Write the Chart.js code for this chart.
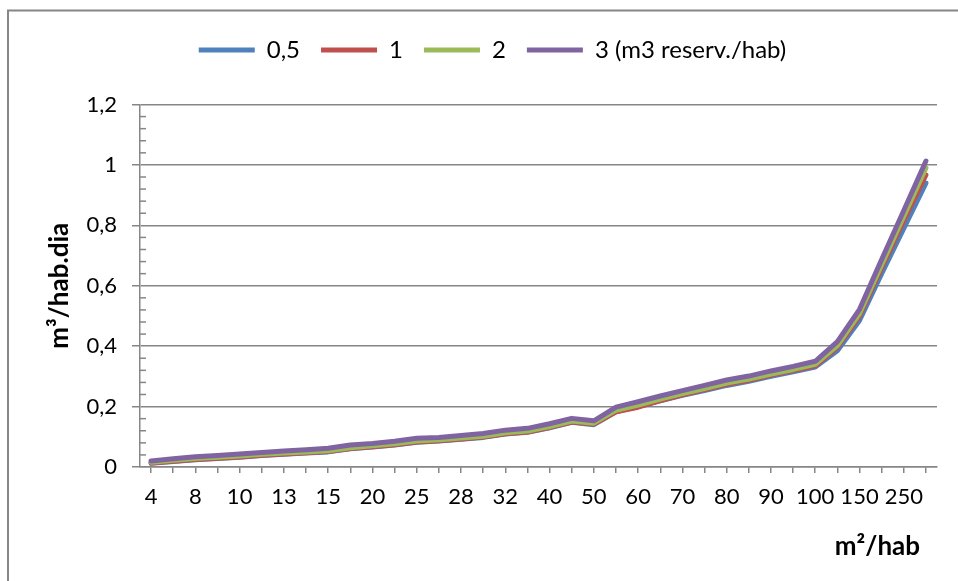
<!DOCTYPE html>
<html>
<head>
<meta charset="utf-8">
<script src="https://cdn.jsdelivr.net/npm/chart.js@4.4.1/dist/chart.umd.min.js"></script>
<style>
  html, body { margin: 0; padding: 0; background: #fff; }
  #chart { display: block; }
</style>
</head>
<body>
<canvas id="chart" width="958" height="581"></canvas>
<script>
/***************************************
 * Data
 ***************************************/
// m2/hab categories - only every other one carries a label on the axis
const areaLabels = ['4', '', '8', '', '10', '', '13', '', '15', '', '20', '', '25', '', '28', '', '32', '',
  '40', '', '50', '', '60', '', '70', '', '80', '', '90', '', '100', '', '150', '', '250', ''];

const seriesNames = ['0,5', '1', '2', '3 (m3 reserv./hab)'];

// m3/hab.dia for each reservoir size
const reserve05 = [0.012, 0.018, 0.024, 0.028, 0.032, 0.038, 0.042, 0.046, 0.050, 0.060, 0.066, 0.073,
  0.082, 0.086, 0.092, 0.098, 0.109, 0.115, 0.130, 0.148, 0.140, 0.183, 0.200, 0.219, 0.237, 0.253,
  0.270, 0.284, 0.300, 0.315, 0.331, 0.385, 0.485, 0.640, 0.790, 0.940];
const reserve1 = [0.013, 0.019, 0.025, 0.029, 0.033, 0.039, 0.043, 0.047, 0.051, 0.061, 0.067, 0.074,
  0.083, 0.087, 0.093, 0.099, 0.110, 0.116, 0.131, 0.149, 0.142, 0.183, 0.198, 0.220, 0.239, 0.256,
  0.274, 0.287, 0.304, 0.319, 0.335, 0.396, 0.500, 0.660, 0.815, 0.967];
const reserve2 = [0.016, 0.022, 0.028, 0.032, 0.036, 0.042, 0.046, 0.050, 0.054, 0.064, 0.070, 0.077,
  0.086, 0.090, 0.096, 0.102, 0.113, 0.119, 0.134, 0.152, 0.145, 0.188, 0.205, 0.225, 0.243, 0.260,
  0.278, 0.291, 0.308, 0.323, 0.340, 0.402, 0.508, 0.670, 0.830, 0.990];
const reserve3 = [0.020, 0.027, 0.034, 0.038, 0.043, 0.048, 0.053, 0.057, 0.062, 0.073, 0.078, 0.085,
  0.095, 0.098, 0.104, 0.111, 0.122, 0.128, 0.143, 0.161, 0.153, 0.198, 0.216, 0.235, 0.253, 0.270,
  0.288, 0.301, 0.318, 0.333, 0.350, 0.415, 0.522, 0.687, 0.849, 1.013];

const lineColors = ['#4F81BD', '#C0504D', '#9BBB59', '#8064A2'];
const axisGray = '#868686';

/***************************************
 * Small plugins
 ***************************************/
// white page + the frame line on the left/top
const pageFrame = {
  id: 'pageFrame',
  beforeDraw(chart) {
    const ctx = chart.ctx;
    ctx.save();
    ctx.fillStyle = '#fff';
    ctx.fillRect(0, 0, chart.width, chart.height);
    ctx.strokeStyle = axisGray;
    ctx.lineWidth = 2;
    ctx.beginPath();
    ctx.moveTo(8, chart.height);
    ctx.lineTo(8, 10.5);
    ctx.lineTo(chart.width, 10.5);
    ctx.stroke();
    ctx.restore();
  }
};

// minor tick marks on the inside of the value axis
const minorTicks = {
  id: 'minorTicks',
  beforeDatasetsDraw(chart) {
    const ctx = chart.ctx;
    const yScale = chart.scales.y;
    const x0 = chart.chartArea.left;
    ctx.save();
    ctx.strokeStyle = axisGray;
    ctx.lineWidth = 1.5;
    for (let i = 1; i < 30; i++) {
      if (i % 5 === 0) continue;
      const py = yScale.getPixelForValue(i * 0.04);
      ctx.beginPath();
      ctx.moveTo(x0, py);
      ctx.lineTo(x0 + 6, py);
      ctx.stroke();
    }
    ctx.restore();
  }
};

// extra room under the legend, and move it a bit to the right like the original
const legendPlace = {
  id: 'legendPlace',
  beforeInit(chart) {
    const origFit = chart.legend.fit;
    chart.legend.fit = function() {
      origFit.call(this);
      this.height += 32.5;
    };
  },
  afterLayout(chart) {
    chart.legend.left += 24;
    chart.legend.right += 24;
  }
};

// x axis title sits to the right, under the last labels
const xTitle = {
  id: 'xTitle',
  afterDraw(chart) {
    const ctx = chart.ctx;
    const area = chart.chartArea;
    ctx.save();
    ctx.font = 'bold 26px Lato';
    ctx.fillStyle = '#000';
    ctx.textAlign = 'right';
    ctx.textBaseline = 'middle';
    ctx.fillText('m²/hab', area.right - 17, area.bottom + 80);
    ctx.restore();
  }
};

/***************************************
 * Chart
 ***************************************/
Chart.defaults.font.family = 'Lato';
Chart.defaults.font.size = 22;
Chart.defaults.color = '#000';

const allSeries = [reserve05, reserve1, reserve2, reserve3];

const chartElement = document.getElementById('chart').getContext('2d');
const reserveChart = new Chart(chartElement, {
  type: 'line',
  data: {
    labels: areaLabels,
    datasets: allSeries.map((values, i) => ({
      label: seriesNames[i],
      data: values,
      borderColor: lineColors[i],
      backgroundColor: lineColors[i],
      borderWidth: 5,
      borderCapStyle: 'round',
      borderJoinStyle: 'round',
      pointRadius: 0,
      tension: 0,
      order: 4 - i  // purple drawn on top
    }))
  },
  options: {
    responsive: false,
    animation: false,
    layout: { padding: { left: 0, right: 21, top: 17, bottom: 0 } },
    plugins: {
      legend: {
        position: 'top',
        labels: {
          usePointStyle: true,
          pointStyle: 'line',
          pointStyleWidth: 56,
          padding: 21,
          color: '#000',
          font: { size: 24 },
          sort: (a, b) => a.datasetIndex - b.datasetIndex
        }
      },
      tooltip: { enabled: false }
    },
    scales: {
      x: {
        type: 'category',
        offset: true,
        ticks: { autoSkip: false, maxRotation: 0, padding: 11, color: '#000' },
        grid: { drawOnChartArea: false, drawTicks: true, tickLength: 6, color: axisGray, lineWidth: 1.5 },
        border: { color: axisGray, width: 1.5 },
        afterFit: (scale) => { scale.height = 114; }
      },
      y: {
        min: 0,
        max: 1.2,
        ticks: {
          stepSize: 0.2,
          padding: 15,
          color: '#000',
          callback: (v) => String(Math.round(v * 10) / 10).replace('.', ',')
        },
        grid: { color: axisGray, lineWidth: 1.5, tickLength: 8 },
        border: { color: axisGray, width: 1.5 },
        title: {
          display: true,
          text: 'm³/hab.dia',
          color: '#000',
          font: { size: 26, weight: 'bold' },
          padding: { top: 44, bottom: 0 }
        },
        afterFit: (scale) => { scale.width = 140; }
      }
    }
  },
  plugins: [pageFrame, minorTicks, legendPlace, xTitle]
});
</script>
</body>
</html>
